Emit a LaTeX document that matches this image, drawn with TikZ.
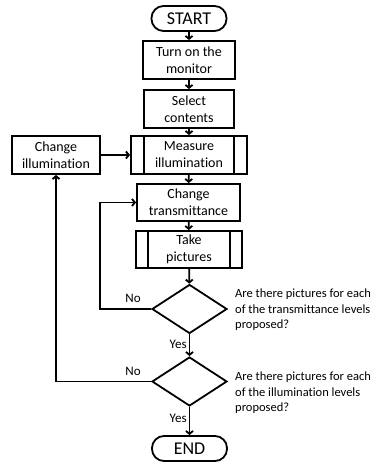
\documentclass[tikz,border=0pt]{standalone}
\usepackage{fontspec}
\setmainfont{Carlito}[Ligatures=NoCommon]
\usepackage{tikz}
\usetikzlibrary{arrows.meta, positioning, calc, shapes.geometric}

\tikzset{
  box/.style={draw, line width=1.8pt, align=center, inner sep=1pt,
    font=\fontsize{14}{17}\selectfont},
  term/.style={box, rounded corners=12pt, minimum width=75pt, minimum height=25pt,
    font=\fontsize{18}{20}\selectfont},
  decision/.style={draw, line width=1.8pt, diamond, inner sep=0pt,
    minimum width=75pt, minimum height=49pt},
  note/.style={align=left, anchor=west, inner sep=0pt,
    font=\fontsize{12.5}{15.5}\selectfont},
  tag/.style={inner sep=0pt, font=\fontsize{13}{14}\selectfont},
  arr/.style={line width=1.8pt, -{Straight Barb[length=3pt, width=7pt]}},
}

\begin{document}
\begin{tikzpicture}[x=1pt, y=1pt]
  \useasboundingbox (0,0) rectangle (371,462);

  % Main column
  \node[term] (start) at (189,443.5) {START};
  \node[box, minimum width=92pt, minimum height=38pt] (turn) at (189,402)
    {Turn on the\\monitor};
  \node[box, minimum width=90pt, minimum height=38pt] (select) at (189,353)
    {Select\\contents};
  \node[box, minimum width=116pt, minimum height=38pt] (measure) at (189,307)
    {Measure\\illumination};
  \node[box, minimum width=88pt, minimum height=38pt] (changeill) at (56,307)
    {Change\\illumination};
  \node[box, minimum width=103pt, minimum height=37pt] (changetr) at (188.5,259.5)
    {Change\\transmittance};
  \node[box, minimum width=106pt, minimum height=37pt] (take) at (189,212.5)
    {Take\\pictures};

  % Side bars of the subprocess boxes
  \draw[line width=1.8pt] ([xshift=14pt]measure.north west) -- ([xshift=14pt]measure.south west);
  \draw[line width=1.8pt] ([xshift=-14pt]measure.north east) -- ([xshift=-14pt]measure.south east);
  \draw[line width=1.8pt] ([xshift=13pt]take.north west) -- ([xshift=13pt]take.south west);
  \draw[line width=1.8pt] ([xshift=-13pt]take.north east) -- ([xshift=-13pt]take.south east);

  % Decisions
  \node[decision] (dec1) at (189.5,153) {};
  \node[decision] (dec2) at (189.5,80.5) {};
  \node[term] (end) at (189.5,13.5) {END};

  \node[note] (q1) at (235,152)
    {Are there pictures for each\\of the transmittance levels\\proposed?};
  \node[note] (q2) at (235,69)
    {Are there pictures for each\\of the illumination levels\\proposed?};

  % Flow
  \draw[arr] (start) -- (turn);
  \draw[arr] (turn) -- (select);
  \draw[arr] (select) -- (measure);
  \draw[arr] (changeill) -- (measure);
  \draw[arr] (measure) -- (changetr);
  \draw[arr] (changetr) -- (take);
  \draw[arr] (take) -- (dec1);
  \draw[arr] (dec1) -- node[tag, left=2pt, pos=0.45] (yes1) {Yes} (dec2);
  \draw[arr] (dec2) -- node[tag, left=2pt, pos=0.4] (yes2) {Yes} (end);

  % Loops back
  \coordinate (loop1) at (100,153);
  \draw[arr] (dec1.west) -- (loop1) |- (changetr.west);
  \node[tag] (no1) at (133,164) {No};
  \draw[arr] (dec2.west) -| (changeill.south);
  \node[tag] (no2) at (133,90.5) {No};
\end{tikzpicture}
\end{document}
